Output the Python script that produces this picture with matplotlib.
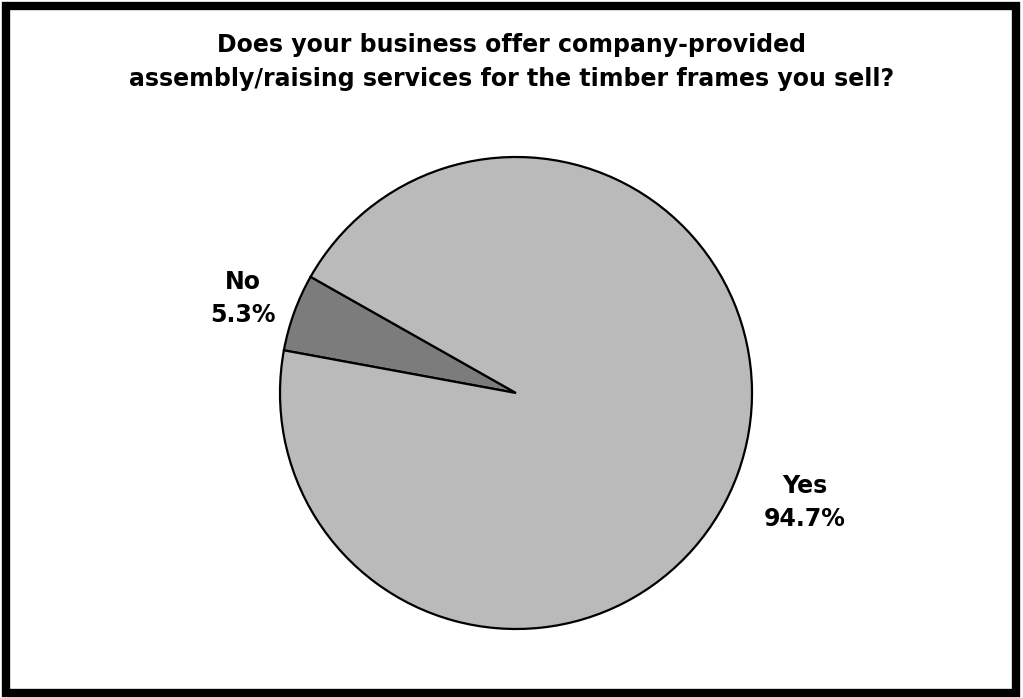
import numpy as np
import matplotlib.pyplot as plt
from matplotlib.patches import Rectangle

# survey answers
labels = ["No", "Yes"]
shares = [5.3, 94.7]
colors = ["#7c7c7c", "#bababa"]
label_dist = [1.23, 1.30]

title = ("Does your business offer company-provided\n"
         "assembly/raising services for the timber frames you sell?")

fig = plt.figure(figsize=(10.23, 6.98), dpi=100)
fig.patch.set_facecolor("white")

W, H = 1023, 698
cx, cy, r = 516, 393, 236
ax = fig.add_axes([(cx - r) / W, (H - cy - r) / H, 2 * r / W, 2 * r / H])

wedges, _ = ax.pie(shares, colors=colors, startangle=150.5, counterclock=True,
                   wedgeprops=dict(edgecolor="black", linewidth=1.6))
ax.set_xlim(-1, 1)
ax.set_ylim(-1, 1)
ax.set_aspect("equal")

# labels with the percentage under the category name
for w, lab, val, d in zip(wedges, labels, shares, label_dist):
    mid = np.deg2rad((w.theta1 + w.theta2) / 2)
    ax.text(d * np.cos(mid), d * np.sin(mid) - 0.02, f"{lab}\n{val:.1f}%",
            ha="center", va="center", fontsize=17, fontweight="bold",
            family="DejaVu Sans", linespacing=1.45, clip_on=False)

fig.text(0.5, 1 - 62 / H, title, ha="center", va="center", fontsize=17,
         fontweight="bold", family="DejaVu Sans", linespacing=1.55)

# thick black frame around the chart
fig.patches.append(Rectangle((6 / W, 5 / H), 1 - 13 / W, 1 - 11 / H,
                             transform=fig.transFigure, fill=False,
                             edgecolor="black", linewidth=6))

fig.savefig("out.png", dpi=100)
